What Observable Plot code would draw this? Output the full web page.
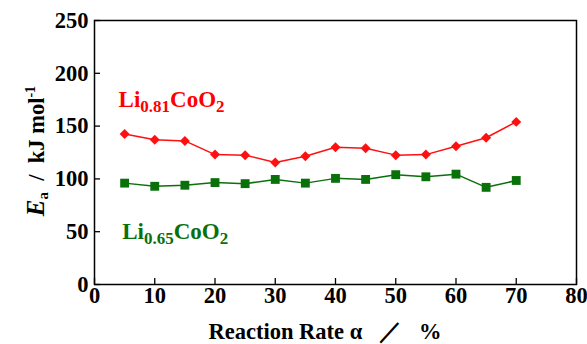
<!DOCTYPE html>
<html><head><meta charset="utf-8">
<script src="https://cdn.jsdelivr.net/npm/d3@7"></script>
<script src="https://cdn.jsdelivr.net/npm/@observablehq/plot@0.6"></script>
<style>
html,body{margin:0;padding:0;background:#fff;}
</style>
</head><body><div id="chart"></div>
<script>
const rate = [5,10,15,20,25,30,35,40,45,50,55,60,65,70];
const li081 = [142.5,137,136,123,122.5,115.5,121.5,130,129,122.5,123,131,139,154];
const li065 = [96,93,94,96.5,95.5,99.5,96,100.5,99.5,104,102,104.5,92,98.5];
const xTicks = [0,10,20,30,40,50,60,70,80];
const yTicks = [0,50,100,150,200,250];
const labels = [
  {name:"Li0.81CoO2", base:"Li", sub:"0.81", rest:"CoO", sub2:"2", x:4.0, y:168, color:"#ff0000"},
  {name:"Li0.65CoO2", base:"Li", sub:"0.65", rest:"CoO", sub2:"2", x:4.6, y:43, color:"#0a700a"}
];
const red = "#ff1010", green = "#0a700a";
const serif = "'Liberation Serif', 'Times New Roman', serif";
const dataRed = rate.map((r,i)=>({x:r,y:li081[i]}));
const dataGreen = rate.map((r,i)=>({x:r,y:li065[i]}));

const chart = Plot.plot({
  width:587, height:344,
  marginLeft:94, marginRight:11, marginTop:20, marginBottom:60,
  style:{fontFamily:serif, fontSize:"22px", fontWeight:"bold", color:"black", background:"white"},
  x:{domain:[0,80]},
  y:{domain:[0,250]},
  marks:[
    Plot.axisX({ticks:xTicks, tickSize:0, tickPadding:3, label:null, fontSize:22.5, fontWeight:"bold"}),
    Plot.axisX({ticks:xTicks, tickSize:6, dy:-6, text:null, label:null, strokeWidth:1.3}),
    Plot.axisY({ticks:yTicks, tickSize:0, tickPadding:6, label:null, fontSize:22.5, fontWeight:"bold"}),
    Plot.axisY({ticks:yTicks, tickSize:6, dx:6, text:null, label:null, strokeWidth:1.3}),
    Plot.frame({stroke:"black", strokeWidth:1.5}),
    Plot.line(dataRed, {x:"x", y:"y", stroke:red, strokeWidth:1.5}),
    Plot.dot(dataRed, {x:"x", y:"y", symbol:"diamond2", fill:red, r:4.5}),
    Plot.line(dataGreen, {x:"x", y:"y", stroke:green, strokeWidth:1.5}),
    Plot.dot(dataGreen, {x:"x", y:"y", symbol:"square", fill:green, r:5}),
    Plot.text(labels, {x:"x", y:"y", text:"name", fill:"color", textAnchor:"start", lineAnchor:"bottom", fontSize:23, fontWeight:"bold", className:"annot"})
  ]
});
document.getElementById("chart").appendChild(chart);

const svg = d3.select(chart);
svg.selectAll(".annot text").each(function(d, i){
  const L = labels[i];
  const t = d3.select(this);
  t.text(null);
  t.append("tspan").text(L.base);
  t.append("tspan").attr("font-size",17).attr("dy",5).text(L.sub);
  t.append("tspan").attr("dy",-5).text(L.rest);
  t.append("tspan").attr("font-size",17).attr("dy",5).text(L.sub2);
});

const xl = svg.append("text")
  .attr("x", 325).attr("y", 339)
  .attr("text-anchor","middle")
  .attr("font-size",22.5).attr("font-weight","bold")
  .attr("xml:space","preserve").style("white-space","pre")
  .text("Reaction Rate α   ／   %");

const yl = svg.append("text")
  .attr("transform","translate(44,151) rotate(-90)")
  .attr("text-anchor","middle")
  .attr("font-size",22.5).attr("font-weight","bold")
  .style("white-space","pre");
yl.append("tspan").attr("font-style","italic").attr("font-size",25).text("E");
yl.append("tspan").attr("font-size",15).attr("dy",4).text("a");
yl.append("tspan").attr("dy",-4).text("  /  kJ mol");
yl.append("tspan").attr("font-size",14).attr("dy",-9).text("-1");

svg.selectAll("text").attr("font-family", serif).style("font-family", serif);
</script>
</body></html>
